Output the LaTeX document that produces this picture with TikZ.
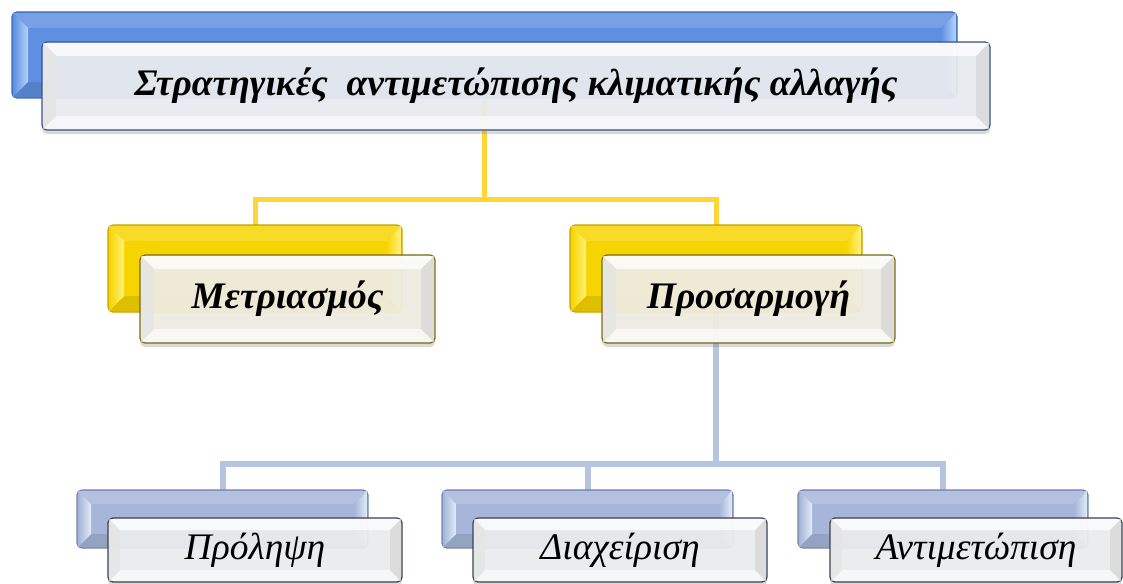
\documentclass[tikz,border=0pt]{standalone}
\usepackage{fontspec}
\setmainfont{Liberation Serif}
\usetikzlibrary{calc,shadows,backgrounds}
\definecolor{blueA}{HTML}{5F8FE2}
\definecolor{blueAD}{HTML}{3F69B5}
\definecolor{blueAL}{HTML}{B4D4FA}
\definecolor{yelA}{HTML}{F6D400}
\definecolor{yelAD}{HTML}{C4A300}
\definecolor{yelAL}{HTML}{FFF27C}
\definecolor{greyA}{HTML}{A6B5D9}
\definecolor{greyAD}{HTML}{7183AC}
\definecolor{greyAL}{HTML}{E2EBF9}
\definecolor{frontTop}{HTML}{EBEDF2}
\definecolor{frontTopD}{HTML}{3A5283}
\definecolor{frontYel}{HTML}{F1EFE4}
\definecolor{frontYelD}{HTML}{7A6A12}
\definecolor{frontGrey}{HTML}{EDEEF0}
\definecolor{frontGreyD}{HTML}{3C4250}
\definecolor{lineYel}{HTML}{FFD636}
\definecolor{lineBlue}{HTML}{B6C4E2}
\newcommand{\bvlBack}[4]{% node, inset, base, light
  \coordinate (o1) at ($(#1.north west)+(1.2,1.2)$);
  \coordinate (o2) at ($(#1.north east)+(-1.2,1.2)$);
  \coordinate (o3) at ($(#1.south east)+(-1.2,-1.2)$);
  \coordinate (o4) at ($(#1.south west)+(1.2,-1.2)$);
  \coordinate (i1) at ($(#1.north west)+(#2,#2)$);
  \coordinate (i2) at ($(#1.north east)+(-#2,#2)$);
  \coordinate (i3) at ($(#1.south east)+(-#2,-#2)$);
  \coordinate (i4) at ($(#1.south west)+(#2,-#2)$);
  \fill[#3!85!white] (o1) -- (o2) -- (i2) -- (i1) -- cycle;
  \fill[#3!90!black] (o3) -- (o4) -- (i4) -- (i3) -- cycle;
  \shade[left color=#3, right color=#4] (o4) -- (o1) -- (i1) -- (i4) -- cycle;
  \shade[left color=#3, right color=#4] (o2) -- (o3) -- (i3) -- (i2) -- cycle;
}
\newcommand{\bvlFront}[2]{% node, inset
  \coordinate (o1) at ($(#1.north west)+(1.2,1.2)$);
  \coordinate (o2) at ($(#1.north east)+(-1.2,1.2)$);
  \coordinate (o3) at ($(#1.south east)+(-1.2,-1.2)$);
  \coordinate (o4) at ($(#1.south west)+(1.2,-1.2)$);
  \coordinate (i1) at ($(#1.north west)+(#2,#2)$);
  \coordinate (i2) at ($(#1.north east)+(-#2,#2)$);
  \coordinate (i3) at ($(#1.south east)+(-#2,-#2)$);
  \coordinate (i4) at ($(#1.south west)+(#2,-#2)$);
  \fill[white, opacity=.75] (o1) -- (o2) -- (i2) -- (i1) -- cycle;
  \fill[white, opacity=.6] (o3) -- (o4) -- (i4) -- (i3) -- cycle;
  \fill[black!10, opacity=.8] (o4) -- (o1) -- (i1) -- (i4) -- cycle;
  \fill[black!15, opacity=.8] (o2) -- (o3) -- (i3) -- (i2) -- cycle;
}
\tikzset{
  box/.style={rectangle, rounded corners=5pt, outer sep=0pt, inner sep=0pt, line width=1.3pt},
  backbox/.style={box},
  frontbox/.style={box, fill opacity=.92, text opacity=1,
    drop shadow={shadow xshift=0pt, shadow yshift=-4pt, opacity=.3}},
  lvlA/.style={font=\fontsize{37.5}{42}\selectfont\bfseries\itshape},
  lvlB/.style={font=\fontsize{37.5}{42}\selectfont\bfseries\itshape},
  lvlC/.style={font=\fontsize{37.5}{42}\selectfont\itshape},
  yconn/.style={draw=lineYel, line width=5pt},
  bconn/.style={draw=lineBlue, line width=6pt},
}
\begin{document}
\begin{tikzpicture}[x=1pt,y=-1pt]
\useasboundingbox (0,0) rectangle (1123,583);
% ---- level 1
\node[backbox, fill=blueA, draw=blueAD, minimum width=945pt, minimum height=86pt] (topB) at (484.5,55) {};
\bvlBack{topB}{16}{blueA}{blueAL}
% ---- level 2 back boxes
\node[backbox, fill=yelA, draw=yelAD, minimum width=294pt, minimum height=87pt] (mB) at (255,268.5) {};
\bvlBack{mB}{16}{yelA}{yelAL}
\node[backbox, fill=yelA, draw=yelAD, minimum width=292pt, minimum height=87pt] (pB) at (716,268.5) {};
\bvlBack{pB}{16}{yelA}{yelAL}
% ---- level 3 back boxes
\node[backbox, fill=greyA, draw=greyAD, minimum width=291pt, minimum height=58pt] (aB) at (222.5,519) {};
\bvlBack{aB}{14}{greyA}{greyAL}
\node[backbox, fill=greyA, draw=greyAD, minimum width=291pt, minimum height=58pt] (bB) at (587.5,519) {};
\bvlBack{bB}{14}{greyA}{greyAL}
\node[backbox, fill=greyA, draw=greyAD, minimum width=290pt, minimum height=58pt] (cB) at (943,519) {};
\bvlBack{cB}{14}{greyA}{greyAL}
% ---- connectors
\coordinate (ybus) at (0,199);
\coordinate (bbus) at (0,464);
\begin{scope}[on background layer]
\draw[yconn] (topB.south) -- (topB.south |- ybus) -| (mB.north);
\draw[yconn] (topB.south |- ybus) -| (pB.north);
\draw[bconn] (pB.south) -- (pB.south |- bbus) -| (aB.north);
\draw[bconn] (pB.south |- bbus) -| (bB.north);
\draw[bconn] (pB.south |- bbus) -| (cB.north);
\end{scope}
% ---- front boxes
\node[frontbox, lvlA, fill=frontTop, draw=frontTopD, minimum width=948pt, minimum height=88pt] (topF) at (516,86) {Στρατηγικές\ \ αντιμετώπισης κλιματικής αλλαγής};
\bvlFront{topF}{14}
\node[frontbox, lvlB, fill=frontYel, draw=frontYelD, minimum width=295pt, minimum height=88pt] (mF) at (287.5,299) {Μετριασμός};
\bvlFront{mF}{14}
\node[frontbox, lvlB, fill=frontYel, draw=frontYelD, minimum width=293pt, minimum height=88pt] (pF) at (748.5,299) {Προσαρμογή};
\bvlFront{pF}{14}
\node[frontbox, lvlC, fill=frontGrey, draw=frontGreyD, minimum width=294pt, minimum height=64pt] (aF) at (255,550) {Πρόληψη};
\bvlFront{aF}{12}
\node[frontbox, lvlC, fill=frontGrey, draw=frontGreyD, minimum width=294pt, minimum height=64pt] (bF) at (620,550) {Διαχείριση};
\bvlFront{bF}{12}
\node[frontbox, lvlC, fill=frontGrey, draw=frontGreyD, minimum width=292pt, minimum height=64pt] (cF) at (976,550) {Αντιμετώπιση};
\bvlFront{cF}{12}
\end{tikzpicture}
\end{document}
